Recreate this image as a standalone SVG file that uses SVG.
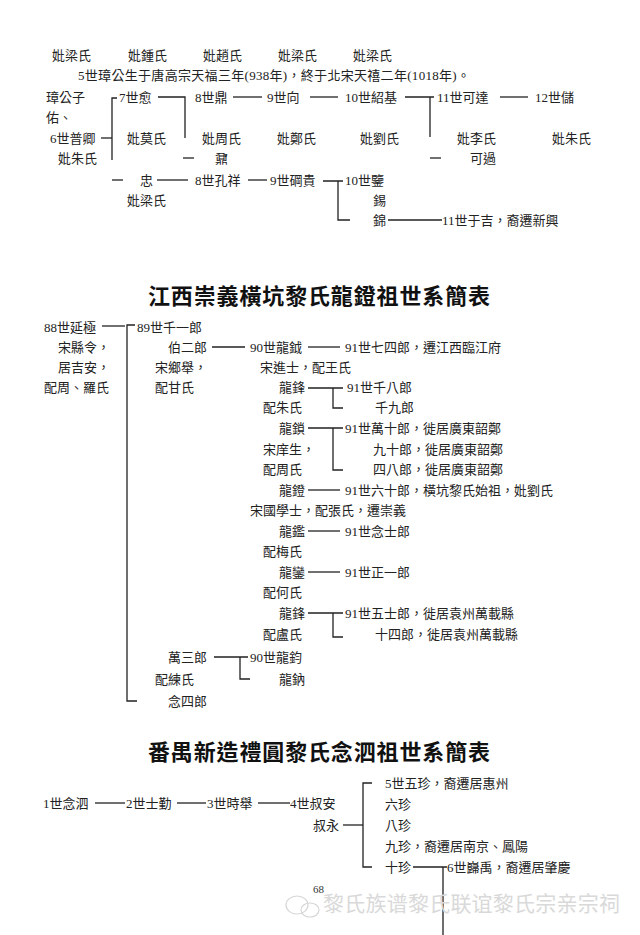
<svg xmlns="http://www.w3.org/2000/svg" width="640" height="935" viewBox="0 0 640 935">
<style>
text{font-family:"Liberation Serif","Noto Sans CJK TC",serif;font-size:13px;fill:#222}
.t{font-family:"Noto Sans CJK TC","Liberation Serif",sans-serif;font-size:22px;font-weight:bold;fill:#111}
.pg{font-size:11px;fill:#333}
.wm{font-family:"Noto Sans CJK SC",sans-serif;font-size:21px;fill:#d9d9d9}
.c line,.c path{stroke:#222;stroke-width:1.3;fill:none}
</style>
<rect width="640" height="935" fill="#fff"/>

<g id="connectors" class="c">
<!-- top section -->
<path d="M117 98 H112 V160"/>
<line x1="101" y1="138" x2="112" y2="138"/>
<path d="M158 97 H185 V138"/>
<line x1="233" y1="97" x2="262" y2="97"/>
<line x1="310" y1="97" x2="338" y2="97"/>
<path d="M405 97 H434 M430 97 V137"/>
<line x1="500" y1="97" x2="528" y2="97"/>
<line x1="183" y1="158" x2="194" y2="158"/>
<line x1="430" y1="158" x2="441" y2="158"/>
<line x1="112" y1="180" x2="123" y2="180"/>
<line x1="157" y1="180" x2="188" y2="180"/>
<line x1="248" y1="180" x2="267" y2="180"/>
<path d="M323 181 H343 M338 181 V220 H350"/>
<line x1="388" y1="220" x2="442" y2="220"/>
<!-- middle section -->
<line x1="102" y1="326" x2="125" y2="326"/>
<path d="M135 325 H127 V701 H137"/>
<line x1="212" y1="347" x2="245" y2="347"/>
<line x1="308" y1="347" x2="340" y2="347"/>
<path d="M308 388 H343 M333 388 V408 H343"/>
<path d="M308 428 H343 M333 428 V470 H343"/>
<line x1="308" y1="490" x2="340" y2="490"/>
<line x1="308" y1="531" x2="340" y2="531"/>
<line x1="308" y1="572" x2="340" y2="572"/>
<path d="M308 613 H343 M333 613 V637 H343"/>
<path d="M214 657 H248 M240 657 V679 H250"/>
<!-- bottom section -->
<line x1="95" y1="803" x2="125" y2="803"/>
<line x1="177" y1="803" x2="206" y2="803"/>
<line x1="258" y1="803" x2="290" y2="803"/>
<line x1="343" y1="825" x2="363" y2="825"/>
<path d="M372 783 H363 V867 H372"/>
<path d="M413 867 H447 M443 867 V935"/>
</g>

<g id="top">
<g id="n-wives1">
<text x="52" y="60">妣梁氏</text>
<text x="128" y="60">妣鍾氏</text>
<text x="203" y="60">妣趙氏</text>
<text x="278" y="60">妣梁氏</text>
<text x="353" y="60">妣梁氏</text>
</g>
<g id="n-note"><text x="78" y="80" textLength="392">5世璋公生于唐高宗天福三年(938年)，終于北宋天禧二年(1018年)。</text></g>
<g id="n-zhang"><text x="46" y="102">璋公子</text><text x="46" y="122">佑、</text></g>
<g id="n-6"><text x="50" y="143">6世普卿</text><text x="58" y="163">妣朱氏</text></g>
<g id="n-7"><text x="119" y="102">7世愈</text><text x="127" y="143">妣莫氏</text></g>
<g id="n-8"><text x="195" y="102">8世鼎</text><text x="202" y="143">妣周氏</text></g>
<g id="n-9"><text x="267" y="102">9世向</text><text x="277" y="143">妣鄭氏</text></g>
<g id="n-10"><text x="345" y="102">10世紹基</text><text x="360" y="143">妣劉氏</text></g>
<g id="n-11"><text x="437" y="102">11世可達</text><text x="457" y="143">妣李氏</text></g>
<g id="n-12"><text x="535" y="102">12世儲</text><text x="552" y="143">妣朱氏</text></g>
<g id="n-nai"><text x="215" y="163">鼐</text></g>
<g id="n-keguo"><text x="470" y="163">可過</text></g>
<g id="n-zhong"><text x="140" y="185">忠</text><text x="127" y="205">妣梁氏</text></g>
<g id="n-kongxiang"><text x="195" y="185">8世孔祥</text></g>
<g id="n-gui"><text x="270" y="185">9世碙貴</text></g>
<g id="n-jian"><text x="345" y="185">10世鑒</text><text x="373" y="205">錫</text><text x="373" y="225">錦</text></g>
<g id="n-yuji"><text x="442" y="225">11世于吉，裔遷新興</text></g>
</g>

<g id="title1"><text class="t" x="148" y="304" textLength="342">江西崇義橫坑黎氏龍鐙祖世系簡表</text></g>

<g id="middle">
<g id="n-88"><text x="44" y="332">88世延極</text><text x="58" y="352">宋縣令，</text><text x="58" y="372">居吉安，</text><text x="44" y="392">配周、羅氏</text></g>
<g id="n-89"><text x="137" y="332">89世千一郎</text></g>
<g id="n-boer"><text x="168" y="352">伯二郎</text><text x="155" y="372">宋鄉舉，</text><text x="155" y="392">配甘氏</text></g>
<g id="n-yue"><text x="250" y="352">90世龍鉞</text><text x="260" y="372">宋進士，配王氏</text></g>
<g id="n-yue-c"><text x="345" y="352">91世七四郎，遷江西臨江府</text></g>
<g id="n-feng1"><text x="279" y="392">龍鋒</text><text x="263" y="412">配朱氏</text></g>
<g id="n-feng1-c"><text x="347" y="392">91世千八郎</text><text x="375" y="412">千九郎</text></g>
<g id="n-suo"><text x="279" y="433">龍鎖</text><text x="263" y="454">宋庠生，</text><text x="263" y="474">配周氏</text></g>
<g id="n-suo-c"><text x="345" y="433">91世萬十郎，徙居廣東韶鄭</text><text x="373" y="454">九十郎，徙居廣東韶鄭</text><text x="373" y="474">四八郎，徙居廣東韶鄭</text></g>
<g id="n-deng"><text x="279" y="495">龍鐙</text><text x="250" y="515">宋國學士，配張氏，遷崇義</text></g>
<g id="n-deng-c"><text x="345" y="495">91世六十郎，橫坑黎氏始祖，妣劉氏</text></g>
<g id="n-jian2"><text x="279" y="536">龍鑑</text><text x="263" y="556">配梅氏</text></g>
<g id="n-jian2-c"><text x="345" y="536">91世念士郎</text></g>
<g id="n-luan"><text x="279" y="577">龍鑾</text><text x="263" y="597">配何氏</text></g>
<g id="n-luan-c"><text x="345" y="577">91世正一郎</text></g>
<g id="n-feng2"><text x="279" y="618">龍鋒</text><text x="263" y="639">配盧氏</text></g>
<g id="n-feng2-c"><text x="345" y="618">91世五士郎，徙居袁州萬載縣</text><text x="375" y="639">十四郎，徙居袁州萬載縣</text></g>
<g id="n-wansan"><text x="168" y="662">萬三郎</text><text x="155" y="684">配練氏</text></g>
<g id="n-jun"><text x="250" y="662">90世龍鈞</text><text x="279" y="684">龍鈉</text></g>
<g id="n-niansi"><text x="168" y="706">念四郎</text></g>
</g>

<g id="title2"><text class="t" x="148" y="760" textLength="342">番禺新造禮圓黎氏念泗祖世系簡表</text></g>

<g id="bottom">
<g id="b-1"><text x="43" y="808">1世念泗</text></g>
<g id="b-2"><text x="126" y="808">2世士勤</text></g>
<g id="b-3"><text x="207" y="808">3世時舉</text></g>
<g id="b-4"><text x="290" y="808">4世叔安</text><text x="313" y="830">叔永</text></g>
<g id="b-5"><text x="385" y="788">5世五珍，裔遷居惠州</text><text x="385" y="809">六珍</text><text x="385" y="830">八珍</text><text x="385" y="851">九珍，裔遷居南京、鳳陽</text><text x="385" y="872">十珍</text></g>
<g id="b-6"><text x="447" y="872">6世巋禹，裔遷居肇慶</text></g>
</g>

<g id="footer">
<text class="pg" x="313" y="893">68</text>
<g fill="none" stroke="#d6d6d6" stroke-width="1.2">
<ellipse cx="297" cy="905" rx="11" ry="9"/>
<ellipse cx="310" cy="910" rx="9" ry="7"/>
</g>
<text class="wm" x="323" y="911" textLength="297">黎氏族谱黎氏联谊黎氏宗亲宗祠</text>
</g>
</svg>
